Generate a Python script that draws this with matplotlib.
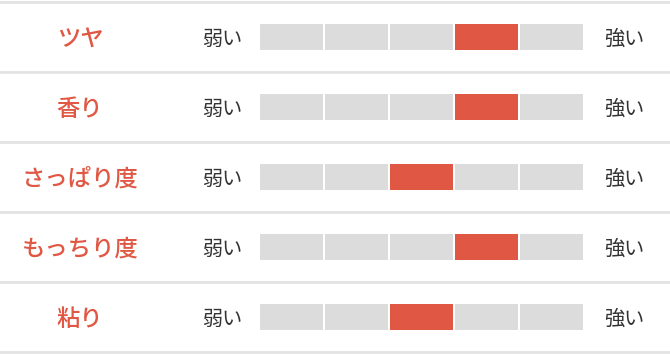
import matplotlib
matplotlib.use("Agg")
import matplotlib.pyplot as plt

plt.rcParams['font.family'] = ['Noto Sans CJK JP', 'DejaVu Sans']

# 評価項目と5段階のレベル
items = ['ツヤ', '香り', 'さっぱり度', 'もっちり度', '粘り']
levels = [4, 4, 3, 4, 3]
low_label = '弱い'
high_label = '強い'
n_steps = 5

RED = '#e05743'
GRAY = '#dcdcdc'
LINE = '#e3e3e3'

fig = plt.figure(figsize=(6.70, 3.54), dpi=100)
ax = fig.add_axes([0, 0, 1, 1])
ax.set_xlim(0, 670)
ax.set_ylim(354, 0)
ax.axis('off')

row_h = 70
top = 1.5
seg_w = 63
seg_pitch = 65
bar_left = 260

for i, (item, lvl) in enumerate(zip(items, levels)):
    yc = top + row_h * i + row_h / 2
    ty = yc + 3  # CJK glyphs sit a little high with va='center'
    ax.text(80, ty, item, color=RED, fontsize=16.8, fontweight='medium',
            ha='center', va='center')
    ax.text(222, ty, low_label, color='#333333', fontsize=14.5,
            ha='center', va='center')
    ax.text(624, ty, high_label, color='#333333', fontsize=14.5,
            ha='center', va='center')
    lefts = [bar_left + seg_pitch * j for j in range(n_steps)]
    colors = [RED if j + 1 == lvl else GRAY for j in range(n_steps)]
    ax.barh([yc] * n_steps, [seg_w] * n_steps, left=lefts, height=26,
            color=colors, linewidth=0)

for k in range(len(items) + 1):
    ax.axhline(top + row_h * k, color=LINE, linewidth=2)

fig.savefig('out.png', dpi=100)
